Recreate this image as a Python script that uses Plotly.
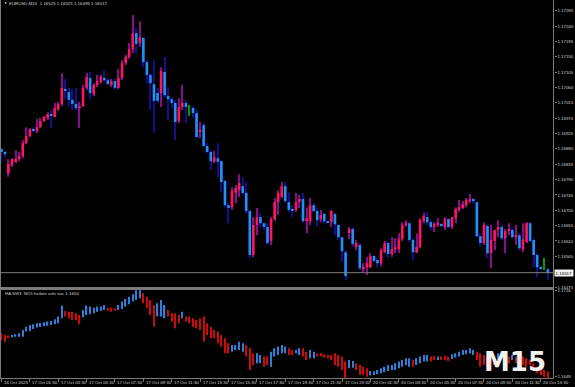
import plotly.graph_objects as go

W, H = 575, 387

# ---------------- data ----------------
bar_open = [
    1.16880, 1.16871, 1.16809, 1.16833, 1.16842, 1.16850, 1.16859, 1.16897, 1.16918, 1.16938,
    1.16933, 1.16944, 1.16962, 1.16971, 1.16982, 1.16974, 1.16997, 1.17012, 1.17056, 1.17047,
    1.17024, 1.17012, 1.17000, 1.17006, 1.17059, 1.17088, 1.17041, 1.17068, 1.17076, 1.17088,
    1.17082, 1.17068, 1.17079, 1.17059, 1.17088, 1.17132, 1.17150, 1.17173, 1.17220, 1.17191,
    1.17206, 1.17135, 1.17097, 1.17070, 1.17044, 1.17044, 1.17106, 1.17035, 1.17026, 1.17015,
    1.16962, 1.17003, 1.17015, 1.16994, 1.17000, 1.16985, 1.16930, 1.16950, 1.16889, 1.16871,
    1.16842, 1.16853, 1.16844, 1.16786, 1.16715, 1.16709, 1.16752, 1.16759, 1.16771, 1.16751,
    1.16698, 1.16569, 1.16657, 1.16680, 1.16662, 1.16651, 1.16610, 1.16674, 1.16724, 1.16739,
    1.16771, 1.16724, 1.16704, 1.16701, 1.16724, 1.16733, 1.16668, 1.16668, 1.16715, 1.16698,
    1.16674, 1.16689, 1.16668, 1.16665, 1.16689, 1.16657, 1.16621, 1.16577, 1.16633, 1.16645,
    1.16592, 1.16598, 1.16530, 1.16533, 1.16533, 1.16566, 1.16554, 1.16545, 1.16577, 1.16604,
    1.16572, 1.16586, 1.16586, 1.16616, 1.16657, 1.16662, 1.16613, 1.16577, 1.16592, 1.16668,
    1.16680, 1.16665, 1.16651, 1.16659, 1.16659, 1.16651, 1.16674, 1.16651, 1.16677, 1.16701,
    1.16707, 1.16715, 1.16727, 1.16733, 1.16724, 1.16624, 1.16604, 1.16654, 1.16574, 1.16610,
    1.16642, 1.16651, 1.16618, 1.16639, 1.16642, 1.16621, 1.16627, 1.16586, 1.16607, 1.16662,
    1.16613, 1.16569, 1.16533, 1.16542, 1.16527,
]
bar_high = [
    1.16883, 1.16874, 1.16850, 1.16853, 1.16877, 1.16871, 1.16906, 1.16944, 1.16941, 1.16944,
    1.16968, 1.16971, 1.16977, 1.16988, 1.16994, 1.17015, 1.17018, 1.17103, 1.17085, 1.17059,
    1.17056, 1.17059, 1.17018, 1.17068, 1.17103, 1.17106, 1.17073, 1.17097, 1.17097, 1.17112,
    1.17088, 1.17085, 1.17085, 1.17115, 1.17141, 1.17156, 1.17191, 1.17273, 1.17235, 1.17255,
    1.17208, 1.17141, 1.17103, 1.17141, 1.17059, 1.17120, 1.17150, 1.17062, 1.17032, 1.17024,
    1.17029, 1.17068, 1.17024, 1.17009, 1.17006, 1.16994, 1.16959, 1.16956, 1.16897, 1.16877,
    1.16874, 1.16897, 1.16847, 1.16789, 1.16721, 1.16768, 1.16774, 1.16806, 1.16798, 1.16783,
    1.16701, 1.16680, 1.16707, 1.16692, 1.16665, 1.16662, 1.16680, 1.16736, 1.16759, 1.16783,
    1.16783, 1.16752, 1.16715, 1.16751, 1.16745, 1.16751, 1.16709, 1.16736, 1.16721, 1.16707,
    1.16701, 1.16692, 1.16671, 1.16701, 1.16692, 1.16659, 1.16621, 1.16583, 1.16651, 1.16651,
    1.16613, 1.16604, 1.16545, 1.16563, 1.16574, 1.16569, 1.16560, 1.16589, 1.16610, 1.16607,
    1.16621, 1.16618, 1.16633, 1.16665, 1.16671, 1.16665, 1.16618, 1.16633, 1.16677, 1.16692,
    1.16695, 1.16671, 1.16665, 1.16677, 1.16662, 1.16680, 1.16677, 1.16680, 1.16709, 1.16730,
    1.16727, 1.16736, 1.16748, 1.16736, 1.16724, 1.16633, 1.16665, 1.16657, 1.16657, 1.16642,
    1.16671, 1.16657, 1.16645, 1.16662, 1.16648, 1.16657, 1.16633, 1.16662, 1.16665, 1.16665,
    1.16618, 1.16574, 1.16536, 1.16560, 1.16530,
]
bar_low = [
    1.16839, 1.16856, 1.16798, 1.16827, 1.16839, 1.16844, 1.16853, 1.16894, 1.16915, 1.16930,
    1.16927, 1.16941, 1.16959, 1.16965, 1.16941, 1.16974, 1.16991, 1.17006, 1.17024, 1.17003,
    1.16994, 1.16994, 1.16941, 1.17003, 1.17053, 1.17026, 1.17035, 1.17062, 1.17073, 1.17076,
    1.17068, 1.17062, 1.17053, 1.17056, 1.17082, 1.17126, 1.17144, 1.17161, 1.17161, 1.17179,
    1.17120, 1.17073, 1.16994, 1.16927, 1.17015, 1.17003, 1.17032, 1.16965, 1.17000, 1.16906,
    1.16956, 1.16994, 1.16956, 1.16977, 1.16971, 1.16912, 1.16912, 1.16886, 1.16868, 1.16818,
    1.16839, 1.16798, 1.16752, 1.16709, 1.16662, 1.16701, 1.16721, 1.16739, 1.16745, 1.16692,
    1.16560, 1.16563, 1.16627, 1.16651, 1.16642, 1.16598, 1.16598, 1.16668, 1.16686, 1.16736,
    1.16721, 1.16695, 1.16680, 1.16695, 1.16707, 1.16665, 1.16633, 1.16657, 1.16695, 1.16651,
    1.16665, 1.16662, 1.16662, 1.16651, 1.16627, 1.16613, 1.16548, 1.16495, 1.16616, 1.16592,
    1.16583, 1.16525, 1.16519, 1.16510, 1.16530, 1.16548, 1.16533, 1.16536, 1.16574, 1.16560,
    1.16563, 1.16574, 1.16574, 1.16610, 1.16651, 1.16607, 1.16554, 1.16574, 1.16589, 1.16662,
    1.16657, 1.16642, 1.16636, 1.16651, 1.16651, 1.16642, 1.16648, 1.16645, 1.16662, 1.16695,
    1.16704, 1.16709, 1.16721, 1.16721, 1.16621, 1.16592, 1.16598, 1.16560, 1.16530, 1.16583,
    1.16621, 1.16613, 1.16574, 1.16627, 1.16618, 1.16598, 1.16583, 1.16577, 1.16604, 1.16607,
    1.16533, 1.16504, 1.16525, 1.16525, 1.16495,
]
bar_close = [
    1.16871, 1.16865, 1.16836, 1.16850, 1.16850, 1.16859, 1.16897, 1.16918, 1.16938, 1.16933,
    1.16944, 1.16962, 1.16974, 1.16982, 1.16977, 1.17000, 1.17012, 1.17059, 1.17050, 1.17024,
    1.17012, 1.17000, 1.17006, 1.17059, 1.17091, 1.17044, 1.17068, 1.17079, 1.17091, 1.17082,
    1.17070, 1.17079, 1.17059, 1.17088, 1.17132, 1.17150, 1.17173, 1.17220, 1.17188, 1.17208,
    1.17135, 1.17097, 1.17073, 1.17021, 1.17021, 1.17109, 1.17038, 1.17026, 1.17015, 1.16959,
    1.17003, 1.17015, 1.17003, 1.16994, 1.16985, 1.16915, 1.16936, 1.16889, 1.16871, 1.16844,
    1.16856, 1.16842, 1.16783, 1.16715, 1.16707, 1.16756, 1.16765, 1.16780, 1.16751, 1.16698,
    1.16569, 1.16657, 1.16680, 1.16662, 1.16651, 1.16604, 1.16674, 1.16724, 1.16751, 1.16771,
    1.16727, 1.16701, 1.16698, 1.16724, 1.16733, 1.16668, 1.16677, 1.16715, 1.16698, 1.16671,
    1.16686, 1.16668, 1.16665, 1.16698, 1.16659, 1.16621, 1.16580, 1.16507, 1.16645, 1.16601,
    1.16604, 1.16530, 1.16533, 1.16545, 1.16566, 1.16551, 1.16545, 1.16583, 1.16604, 1.16572,
    1.16586, 1.16592, 1.16616, 1.16657, 1.16662, 1.16613, 1.16577, 1.16592, 1.16671, 1.16683,
    1.16665, 1.16651, 1.16659, 1.16662, 1.16654, 1.16674, 1.16651, 1.16680, 1.16704, 1.16709,
    1.16718, 1.16730, 1.16733, 1.16727, 1.16624, 1.16604, 1.16657, 1.16574, 1.16613, 1.16642,
    1.16651, 1.16618, 1.16639, 1.16645, 1.16621, 1.16627, 1.16589, 1.16613, 1.16662, 1.16610,
    1.16569, 1.16533, 1.16530, 1.16542, 1.16516,
]
green_bars = [53, 153]

osc_high = [
    1.16870, 1.16856, 1.16850, 1.16856, 1.16861, 1.16870, 1.16899, 1.16928, 1.16943, 1.16949,
    1.16957, 1.16963, 1.16966, 1.16972, 1.16978, 1.16992, 1.17016, 1.17112, 1.17065, 1.17059,
    1.17059, 1.17045, 1.17030, 1.17074, 1.17112, 1.17103, 1.17094, 1.17103, 1.17103, 1.17117,
    1.17094, 1.17094, 1.17088, 1.17117, 1.17147, 1.17170, 1.17190, 1.17211, 1.17245, 1.17245,
    1.17219, 1.17190, 1.17161, 1.17117, 1.17132, 1.17161, 1.17117, 1.17074, 1.17045, 1.17045,
    1.17030, 1.17059, 1.17016, 1.17016, 1.17001, 1.16986, 1.17001, 1.17016, 1.16957, 1.16928,
    1.16899, 1.16885, 1.16856, 1.16826, 1.16783, 1.16768, 1.16768, 1.16797, 1.16783, 1.16768,
    1.16739, 1.16696, 1.16696, 1.16681, 1.16667, 1.16667, 1.16710, 1.16739, 1.16754, 1.16768,
    1.16754, 1.16739, 1.16725, 1.16725, 1.16739, 1.16739, 1.16710, 1.16725, 1.16710, 1.16696,
    1.16696, 1.16687, 1.16681, 1.16681, 1.16696, 1.16681, 1.16667, 1.16623, 1.16637, 1.16629,
    1.16608, 1.16594, 1.16579, 1.16565, 1.16541, 1.16536, 1.16550, 1.16565, 1.16579, 1.16594,
    1.16594, 1.16608, 1.16623, 1.16637, 1.16652, 1.16652, 1.16637, 1.16652, 1.16667, 1.16681,
    1.16681, 1.16667, 1.16675, 1.16667, 1.16667, 1.16675, 1.16667, 1.16687, 1.16696, 1.16710,
    1.16725, 1.16725, 1.16739, 1.16725, 1.16710, 1.16696, 1.16681, 1.16667, 1.16652, 1.16667,
    1.16696, 1.16696, 1.16681, 1.16667, 1.16681, 1.16667, 1.16681, 1.16667, 1.16652, 1.16637,
    1.16608, 1.16579, 1.16565, 1.16550, 1.16536,
]
osc_low = [
    1.16812, 1.16797, 1.16826, 1.16835, 1.16841, 1.16841, 1.16841, 1.16885, 1.16890, 1.16908,
    1.16920, 1.16925, 1.16931, 1.16937, 1.16943, 1.16949, 1.16957, 1.17001, 1.17016, 1.17001,
    1.16986, 1.16986, 1.16949, 1.17007, 1.17030, 1.17036, 1.17045, 1.17059, 1.17065, 1.17074,
    1.17065, 1.17059, 1.17065, 1.17074, 1.17082, 1.17103, 1.17123, 1.17147, 1.17161, 1.17176,
    1.17132, 1.17088, 1.17030, 1.16928, 1.17016, 1.17016, 1.17001, 1.17016, 1.16972, 1.16914,
    1.16957, 1.17001, 1.16972, 1.16957, 1.16928, 1.16914, 1.16899, 1.16797, 1.16856, 1.16826,
    1.16826, 1.16783, 1.16754, 1.16696, 1.16696, 1.16710, 1.16725, 1.16725, 1.16710, 1.16667,
    1.16550, 1.16594, 1.16608, 1.16608, 1.16579, 1.16594, 1.16579, 1.16667, 1.16681, 1.16696,
    1.16696, 1.16681, 1.16681, 1.16696, 1.16681, 1.16667, 1.16637, 1.16652, 1.16652, 1.16667,
    1.16667, 1.16658, 1.16652, 1.16637, 1.16594, 1.16579, 1.16550, 1.16482, 1.16565, 1.16570,
    1.16550, 1.16507, 1.16507, 1.16492, 1.16501, 1.16507, 1.16513, 1.16521, 1.16530, 1.16541,
    1.16550, 1.16550, 1.16565, 1.16579, 1.16594, 1.16579, 1.16579, 1.16594, 1.16608, 1.16623,
    1.16623, 1.16623, 1.16637, 1.16637, 1.16637, 1.16637, 1.16629, 1.16646, 1.16658, 1.16667,
    1.16681, 1.16687, 1.16696, 1.16681, 1.16637, 1.16579, 1.16594, 1.16579, 1.16550, 1.16594,
    1.16637, 1.16652, 1.16623, 1.16608, 1.16637, 1.16608, 1.16623, 1.16594, 1.16579, 1.16594,
    1.16550, 1.16521, 1.16507, 1.16492, 1.16482,
]
osc_up = [
    0, 0, 0, 1, 1, 1, 1, 1, 1, 1,
    1, 1, 1, 1, 1, 1, 1, 1, 0, 0,
    0, 0, 0, 1, 1, 1, 1, 1, 1, 1,
    0, 0, 0, 1, 1, 1, 1, 1, 1, 1,
    0, 0, 0, 0, 1, 1, 1, 0, 0, 0,
    0, 1, 0, 0, 0, 0, 0, 0, 0, 0,
    0, 0, 0, 0, 0, 1, 1, 1, 1, 0,
    0, 0, 1, 1, 0, 0, 1, 1, 1, 1,
    1, 0, 0, 1, 1, 0, 0, 1, 1, 0,
    0, 0, 0, 0, 0, 0, 0, 0, 1, 1,
    0, 0, 0, 0, 1, 1, 1, 1, 1, 1,
    1, 1, 1, 1, 1, 1, 0, 1, 1, 1,
    1, 0, 0, 1, 0, 0, 0, 1, 1, 1,
    1, 1, 1, 1, 0, 0, 0, 0, 0, 0,
    1, 1, 0, 0, 1, 0, 1, 0, 0, 0,
    0, 0, 0, 0, 0,
]

time_labels = ["16 Oct 2025", "17 Oct 01:30", "17 Oct 03:30", "17 Oct 05:30", "17 Oct 07:30",
               "17 Oct 09:30", "17 Oct 11:30", "17 Oct 13:30", "17 Oct 15:30", "17 Oct 17:30",
               "17 Oct 19:30", "17 Oct 21:30", "17 Oct 23:30", "20 Oct 01:30", "20 Oct 03:30",
               "20 Oct 05:30", "20 Oct 07:30", "20 Oct 09:30", "20 Oct 11:30", "20 Oct 13:30"]
time_label_bars = [0, 8, 16, 24, 32, 40, 48, 56, 64, 72, 80, 88, 96, 104, 112, 120, 128, 136, 144, 152]

price_ticks = [1.17285, 1.17240, 1.17195, 1.17150, 1.17105, 1.17060, 1.17015, 1.16970, 1.16925,
               1.16880, 1.16835, 1.16790, 1.16745, 1.16700, 1.16655, 1.16610, 1.16565, 1.16475]
osc_ticks = [1.1724, 1.1649]
last_price = 1.16517
main_title = "EURUSD,M15  1.16525 1.16525 1.16499 1.16517"
osc_title = "HA SW1: M15 heiken ashi osc 1.1654"
tf_label = "M15"

# ---------------- styling ----------------
BG = "#000000"
TXT = "#D2D2D2"
GRID = "#7A7A7A"
BULL = "#FF1464"
BEAR = "#1E90FF"
BULL_WICK = "#8A0E8A"
BEAR_WICK = "#10108E"
GREEN = "#00A000"
OSC_UP = "#2F7FD8"
OSC_DN = "#D00A0A"
FONT = "Liberation Sans"
FS = 4.4

PLOT_R = 553.5  # right edge of panes (px)
MAIN_BOTTOM = 287
SUB_TOP, SUB_BOTTOM = 290, 378


def px(x):
    return x / W


def py(y):
    return 1 - y / H


n = len(bar_open)
idx = list(range(n))

wick_col, body_col, body_base, body_h = [], [], [], []
min_body = 0.000030
for i in idx:
    o, c = bar_open[i], bar_close[i]
    if i in green_bars:
        wick_col.append(GREEN)
        body_col.append("rgba(0,0,0,0)")
        body_base.append(o)
        body_h.append(0)
        continue
    up = c > o
    wick_col.append(BULL_WICK if up else BEAR_WICK)
    body_col.append(BULL if up else BEAR)
    lo, hi = min(o, c), max(o, c)
    if hi - lo < min_body:
        mid = (hi + lo) / 2
        lo, hi = mid - min_body / 2, mid + min_body / 2
    body_base.append(lo)
    body_h.append(hi - lo)

fig = go.Figure()
fig.add_trace(go.Bar(x=idx, base=bar_low, y=[h - l for h, l in zip(bar_high, bar_low)],
                     width=0.3, marker=dict(color=wick_col, line=dict(width=0)),
                     xaxis="x", yaxis="y", hoverinfo="skip", showlegend=False))
fig.add_trace(go.Bar(x=idx, base=body_base, y=body_h, width=0.74,
                     marker=dict(color=body_col, line=dict(width=0)),
                     xaxis="x", yaxis="y", hoverinfo="skip", showlegend=False))
fig.add_trace(go.Bar(x=idx, base=osc_low, y=[h - l for h, l in zip(osc_high, osc_low)],
                     width=0.36,
                     marker=dict(color=[OSC_UP if u else OSC_DN for u in osc_up], line=dict(width=0)),
                     xaxis="x2", yaxis="y2", hoverinfo="skip", showlegend=False))

xr = [-0.4, 155.6]
xdom = [0, px(PLOT_R)]
fig.update_layout(
    width=W, height=H, template="none",
    paper_bgcolor=BG, plot_bgcolor=BG,
    margin=dict(l=0, r=0, t=0, b=0),
    barmode="overlay", showlegend=False,
    font=dict(family=FONT, size=FS, color=TXT),
    xaxis=dict(domain=xdom, range=xr, anchor="y", showgrid=False, zeroline=False,
               showticklabels=False, ticks="", showline=False, automargin=False),
    xaxis2=dict(domain=xdom, range=xr, anchor="y2", matches="x", showgrid=False, zeroline=False,
                tickvals=time_label_bars, ticktext=[""] * len(time_label_bars),
                ticks="outside", ticklen=3, tickwidth=1, tickcolor=GRID,
                showline=False, automargin=False),
    yaxis=dict(domain=[py(MAIN_BOTTOM), 1], range=[1.16475, 1.17317], side="right",
               anchor="x", showgrid=False, zeroline=False, tickvals=price_ticks,
               tickformat=".5f", ticks="outside", ticklen=2, tickcolor=GRID,
               tickfont=dict(family=FONT, size=FS, color=TXT), showline=False, automargin=False),
    yaxis2=dict(domain=[py(SUB_BOTTOM), py(SUB_TOP)], range=[1.16480, 1.17248], side="right",
                anchor="x2", showgrid=False, zeroline=False, tickvals=osc_ticks,
                tickformat=".4f", ticks="outside", ticklen=2, tickcolor=GRID,
                tickfont=dict(family=FONT, size=FS, color=TXT), showline=False, automargin=False),
)

shapes = [
    dict(type="line", xref="paper", yref="paper", x0=px(PLOT_R), x1=px(PLOT_R), y0=py(0), y1=py(SUB_BOTTOM),
         line=dict(color=GRID, width=1)),
    dict(type="line", xref="paper", yref="paper", x0=px(0.5), x1=px(0.5), y0=py(0), y1=py(SUB_BOTTOM),
         line=dict(color=GRID, width=1)),
    dict(type="rect", xref="paper", yref="paper", x0=0, x1=px(PLOT_R), y0=py(SUB_TOP), y1=py(MAIN_BOTTOM),
         fillcolor="#7C7C7C", line=dict(width=0)),
    dict(type="line", xref="paper", yref="paper", x0=0, x1=px(PLOT_R), y0=py(SUB_BOTTOM + 0.5), y1=py(SUB_BOTTOM + 0.5),
         line=dict(color=GRID, width=1)),
    dict(type="line", xref="paper", yref="y", x0=0, x1=px(PLOT_R), y0=last_price, y1=last_price,
         line=dict(color="#7E7E7E", width=1)),
]
fig.update_layout(shapes=shapes)

ann = []
ann.append(dict(xref="paper", yref="paper", x=px(1.5), y=py(3.2), text="▼", showarrow=False,
                xanchor="left", yanchor="middle", font=dict(size=3.2, color="#FFFFFF")))
ann.append(dict(xref="paper", yref="paper", x=px(7), y=py(3.2), text=main_title, showarrow=False,
                xanchor="left", yanchor="middle", font=dict(size=FS, color=TXT)))
ann.append(dict(xref="paper", yref="paper", x=px(3), y=py(293.5), text=osc_title, showarrow=False,
                xanchor="left", yanchor="middle", font=dict(size=FS, color=TXT)))
ann.append(dict(xref="paper", yref="y", x=px(PLOT_R + 0.5), y=last_price, text=f"{last_price:.5f}",
                showarrow=False, xanchor="left", yanchor="middle", bgcolor="#F0F0F0",
                borderpad=0.6, font=dict(size=FS, color="#000000")))
for b, t in zip(time_label_bars, time_labels):
    ann.append(dict(xref="x2", yref="paper", x=b, y=py(382.5), text=t, showarrow=False,
                    xanchor="left", yanchor="middle", xshift=0.5, font=dict(size=FS, color=TXT)))
ann.append(dict(xref="paper", yref="paper", x=px(515), y=py(362), text=f"<b>{tf_label}</b>", showarrow=False,
                xanchor="center", yanchor="middle", font=dict(family="DejaVu Sans", size=26, color="#F2F2F2")))
fig.update_layout(annotations=ann)

fig.write_html("out.html", config={"displayModeBar": False},
               post_script="document.body.style.margin='0';document.body.style.overflow='hidden';")
